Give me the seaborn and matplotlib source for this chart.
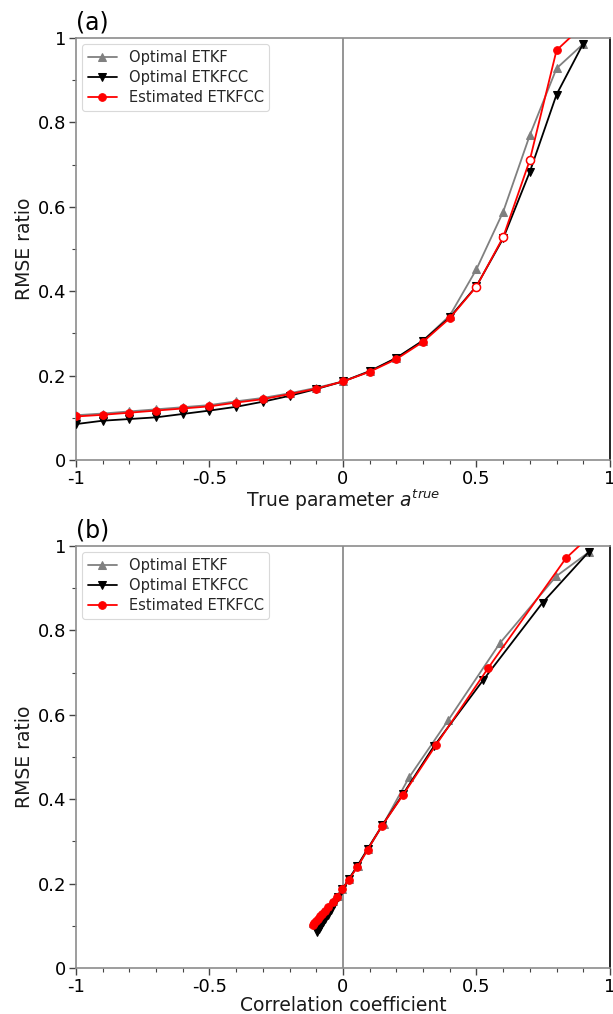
import numpy as np
import pandas as pd
import matplotlib
matplotlib.use("Agg")
import matplotlib.pyplot as plt
from matplotlib.ticker import MultipleLocator, FuncFormatter
import seaborn as sns

# True parameter values
a_true = [-1.0, -0.9, -0.8, -0.7, -0.6, -0.5, -0.4, -0.3, -0.2, -0.1,
          0.0, 0.1, 0.2, 0.3, 0.4, 0.5, 0.6, 0.7, 0.8, 0.9]

# RMSE ratio for each filter
rmse_etkf = [0.106, 0.110, 0.115, 0.120, 0.125, 0.130, 0.139, 0.147, 0.158, 0.171,
             0.186, 0.211, 0.241, 0.283, 0.342, 0.452, 0.588, 0.770, 0.928, 0.986]
rmse_etkfcc_opt = [0.085, 0.093, 0.097, 0.101, 0.109, 0.117, 0.126, 0.138, 0.152, 0.168,
                   0.186, 0.210, 0.242, 0.283, 0.338, 0.412, 0.525, 0.683, 0.866, 0.987]
rmse_etkfcc_est = [0.103, 0.107, 0.112, 0.117, 0.122, 0.127, 0.136, 0.144, 0.156, 0.169,
                   0.186, 0.209, 0.239, 0.280, 0.336, 0.411, 0.528, 0.711, 0.971, 1.030]

# Correlation coefficient for each filter
corr_etkf = [-0.112, -0.106, -0.099, -0.092, -0.085, -0.078, -0.065, -0.054, -0.037, -0.019,
             -0.002, 0.022, 0.055, 0.095, 0.152, 0.248, 0.395, 0.588, 0.798, 0.922]
corr_etkfcc_opt = [-0.098, -0.090, -0.086, -0.082, -0.074, -0.066, -0.057, -0.046, -0.033, -0.018,
                   -0.002, 0.021, 0.054, 0.093, 0.147, 0.225, 0.340, 0.526, 0.748, 0.922]
corr_etkfcc_est = [-0.113, -0.108, -0.100, -0.093, -0.086, -0.079, -0.066, -0.055, -0.038, -0.022,
                   -0.003, 0.021, 0.054, 0.092, 0.145, 0.226, 0.348, 0.544, 0.835, 0.935]

# Points of the estimated run drawn with hollow markers in the first panel
hollow_idx = [15, 16, 17]

labels = ["Optimal ETKF", "Optimal ETKFCC", "Estimated ETKFCC"]

sns.set_theme(style="white")
plt.rcParams["font.family"] = ["DejaVu Sans"]

fig = plt.figure(figsize=(6.13, 10.14), dpi=100)
ax_a = fig.add_axes([0.124, 0.5464, 0.871, 0.4161])
ax_b = fig.add_axes([0.124, 0.0454, 0.871, 0.4161])

styles = [
    dict(color="#808080", marker="^"),
    dict(color="black", marker="v"),
    dict(color="red", marker="o"),
]


def fmt(v, pos):
    return f"{v:g}"


def draw(ax, xs_list, ys_list, xlabel, tag, hollow):
    ax.axvline(0, color="#8c8c8c", lw=1.3, zorder=1)
    for xs, ys, lab, st in zip(xs_list, ys_list, labels, styles):
        df = pd.DataFrame({"x": xs, "y": ys})
        sns.lineplot(data=df, x="x", y="y", ax=ax, sort=False, estimator=None,
                     color=st["color"], marker=st["marker"], markersize=5.5,
                     markeredgecolor=st["color"], lw=1.3, label=lab, zorder=3)
    if hollow:
        df_h = pd.DataFrame({"x": [xs_list[2][i] for i in hollow_idx],
                             "y": [ys_list[2][i] for i in hollow_idx]})
        sns.scatterplot(data=df_h, x="x", y="y", ax=ax, marker="o", s=34,
                        facecolor="white", edgecolor="red", linewidth=1.1,
                        zorder=4, legend=False)
    ax.set_xlim(-1, 1)
    ax.set_ylim(0, 1)
    ax.xaxis.set_major_locator(MultipleLocator(0.5))
    ax.xaxis.set_minor_locator(MultipleLocator(0.1))
    ax.yaxis.set_major_locator(MultipleLocator(0.2))
    ax.yaxis.set_minor_locator(MultipleLocator(0.1))
    ax.xaxis.set_major_formatter(FuncFormatter(fmt))
    ax.yaxis.set_major_formatter(FuncFormatter(fmt))
    ax.tick_params(axis="both", which="major", direction="out", length=5, width=1,
                   labelsize=13, bottom=True, left=True, colors="#444444",
                   labelcolor="black", pad=2)
    ax.tick_params(axis="both", which="minor", direction="out", length=3, width=0.8,
                   bottom=True, left=True, colors="#444444")
    for side in ["left", "top", "bottom"]:
        ax.spines[side].set_color("#8c8c8c")
        ax.spines[side].set_linewidth(1.2)
    ax.spines["right"].set_color("black")
    ax.spines["right"].set_linewidth(1.2)
    ax.set_xlabel(xlabel, fontsize=13.5, labelpad=0, color="#1a1a1a")
    ax.set_ylabel("RMSE ratio", fontsize=13.5, labelpad=3, color="#1a1a1a")
    ax.text(0.0, 1.008, tag, transform=ax.transAxes, fontsize=17,
            ha="left", va="bottom", color="black")
    leg = ax.legend(loc="upper left", fontsize=10.5, frameon=True,
                    borderaxespad=0.4, handlelength=2.0, labelspacing=0.35)
    leg.get_frame().set_edgecolor("#d0d0d0")
    leg.get_frame().set_linewidth(0.8)


draw(ax_a, [a_true, a_true, a_true],
     [rmse_etkf, rmse_etkfcc_opt, rmse_etkfcc_est],
     r"True parameter $a^{true}$", "(a)", True)
draw(ax_b, [corr_etkf, corr_etkfcc_opt, corr_etkfcc_est],
     [rmse_etkf, rmse_etkfcc_opt, rmse_etkfcc_est],
     "Correlation coefficient", "(b)", False)

fig.savefig("out.png", dpi=100)
